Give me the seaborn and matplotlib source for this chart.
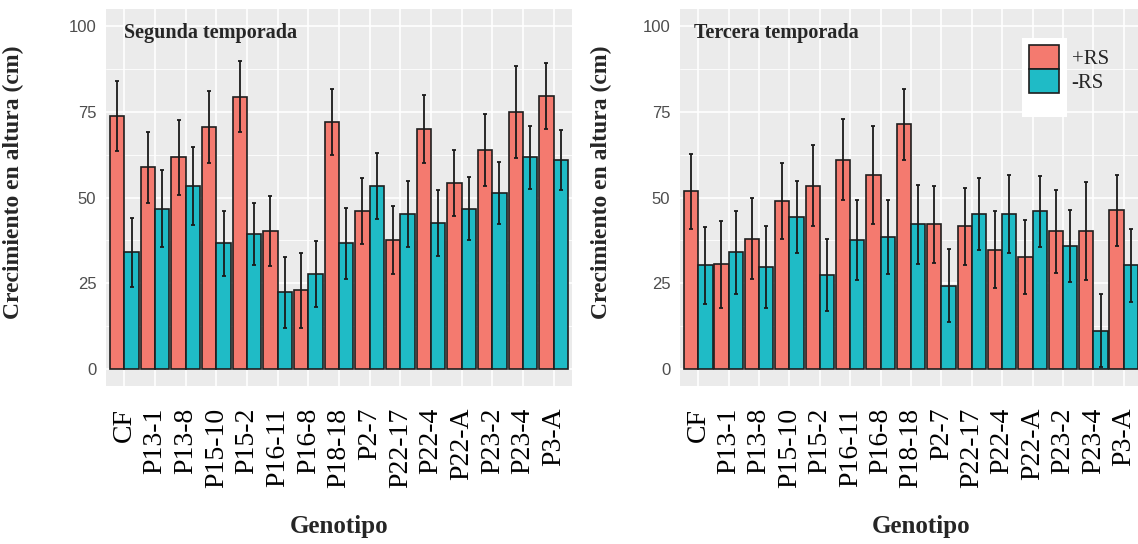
import numpy as np
import pandas as pd
import seaborn as sns
import matplotlib
matplotlib.use("Agg")
import matplotlib.pyplot as plt
from matplotlib.patches import Patch, Rectangle
from matplotlib.ticker import MultipleLocator

# ---------------- data ----------------
genotipos = ["CF", "P13-1", "P13-8", "P15-10", "P15-2", "P16-11", "P16-8", "P18-18",
             "P2-7", "P22-17", "P22-4", "P22-A", "P23-2", "P23-4", "P3-A"]
tratamientos = ["+RS", "-RS"]

# Segunda temporada
seg_mas = [73.8, 58.8, 61.7, 70.6, 79.4, 40.2, 22.9, 72.1, 46.1, 37.7, 70.0, 54.2, 64.0, 75.0, 79.6]
seg_mas_err = [10.2, 10.4, 11.0, 10.5, 10.4, 10.3, 11.0, 9.6, 9.7, 9.9, 10.0, 9.6, 10.5, 13.4, 9.7]
seg_menos = [34.0, 46.7, 53.4, 36.6, 39.3, 22.3, 27.6, 36.6, 53.4, 45.2, 42.5, 46.7, 51.3, 61.7, 60.9]
seg_menos_err = [10.0, 11.2, 11.4, 9.6, 9.0, 10.4, 9.6, 10.4, 9.7, 9.6, 9.7, 9.2, 9.1, 9.1, 8.8]

# Tercera temporada
ter_mas = [51.8, 30.5, 38.0, 49.0, 53.5, 61.0, 56.7, 71.4, 42.2, 41.6, 34.8, 32.6, 40.1, 40.1, 46.3]
ter_mas_err = [11.0, 12.7, 11.8, 11.2, 11.9, 11.8, 14.3, 10.4, 11.3, 11.3, 11.2, 10.8, 12.1, 14.3, 10.4]
ter_menos = [30.2, 34.0, 29.7, 44.4, 27.3, 37.6, 38.5, 42.2, 24.3, 45.2, 45.2, 46.0, 35.8, 11.1, 30.2]
ter_menos_err = [11.2, 12.2, 12.0, 10.5, 10.5, 11.7, 10.8, 11.5, 10.6, 10.5, 11.3, 10.4, 10.5, 10.6, 10.6]

paneles = ["Segunda temporada", "Tercera temporada"]
ylabel = "Crecimiento en altura (cm)"
xlabel = "Genotipo"
y_ticks = [0, 25, 50, 75, 100]

# ---------------- style ----------------
sns.set_style("white")
plt.rcParams["font.family"] = ["Liberation Serif", "DejaVu Serif"]

colores = ["#F47A6F", "#1FBBC6"]
edge = "#1e1e1e"
W, H = 1138, 544

fig = plt.figure(figsize=(W / 100, H / 100), dpi=100)

def make_df(mas, menos):
    rows = []
    for g, v in zip(genotipos, mas):
        rows.append((g, "+RS", v))
    for g, v in zip(genotipos, menos):
        rows.append((g, "-RS", v))
    return pd.DataFrame(rows, columns=["Genotipo", "Tratamiento", "valor"])

specs = [
    dict(pos=[106, 9, 466, 377], mas=seg_mas, mas_e=seg_mas_err, menos=seg_menos, menos_e=seg_menos_err,
         title=paneles[0], ylab_x=(24 - 106) / 466, xlab_x=0.5, title_x=0.0),
    dict(pos=[680, 9, 462, 377], mas=ter_mas, mas_e=ter_mas_err, menos=ter_menos, menos_e=ter_menos_err,
         title=paneles[1], ylab_x=(612 - 680) / 462, xlab_x=(921 - 680) / 462, title_x=-0.15),
]

for sp in specs:
    l, t, w, h = sp["pos"]
    ax = fig.add_axes([l / W, 1 - (t + h) / H, w / W, h / H])
    ax.set_facecolor("#EBEBEB")
    df = make_df(sp["mas"], sp["menos"])
    sns.barplot(data=df, x="Genotipo", y="valor", hue="Tratamiento", order=genotipos,
                hue_order=tratamientos, palette=colores, saturation=1, width=0.94, gap=0,
                errorbar=None, edgecolor=edge, linewidth=1.2, legend=False, ax=ax, zorder=3)
    errs = [sp["mas_e"], sp["menos_e"]]
    vals = [sp["mas"], sp["menos"]]
    for cont, e, v in zip(ax.containers, errs, vals):
        xs = [b.get_x() + b.get_width() / 2 for b in cont]
        ax.errorbar(xs, v, yerr=e, fmt="none", ecolor="#1a1a1a", elinewidth=1.3,
                    capsize=1.6, capthick=1.3, zorder=4)
    ax.set_xlim(-0.6, len(genotipos) - 0.4)
    ax.set_ylim(-5, 105)
    ax.set_yticks(y_ticks)
    ax.yaxis.set_minor_locator(MultipleLocator(12.5))
    ax.grid(which="major", axis="both", color="white", linewidth=1.2, zorder=0)
    ax.grid(which="minor", axis="y", color="white", linewidth=0.6, zorder=0)
    ax.set_axisbelow(True)
    for s in ax.spines.values():
        s.set_visible(False)
    ax.tick_params(axis="both", which="major", length=3.5, width=1.0, color="#333333", direction="out")
    ax.tick_params(axis="both", which="minor", length=0)
    ax.tick_params(axis="x", pad=12)
    for lab in ax.get_yticklabels():
        lab.set_family("Liberation Sans")
        lab.set_fontsize(12)
        lab.set_color("#4D4D4D")
    ax.set_xticks(range(len(genotipos)))
    ax.set_xticklabels(genotipos, rotation=90, fontsize=20, color="black")
    ax.set_ylabel(ylabel, fontsize=17, fontweight="bold")
    ax.yaxis.set_label_coords(sp["ylab_x"], 0.54)
    ax.set_xlabel(xlabel, fontsize=18, fontweight="bold")
    ax.xaxis.label.set_va("center")
    ax.xaxis.set_label_coords(sp["xlab_x"], (386 - 527) / 377)
    ax.text(sp["title_x"], 98, sp["title"], ha="left", va="center", fontsize=14.5,
            fontweight="bold", zorder=5)

# legend
fig.add_artist(Rectangle((1022 / W, 1 - 117 / H), 45 / W, 79 / H, transform=fig.transFigure,
                         facecolor="white", edgecolor="none", zorder=1))
handles = [Patch(facecolor=c, edgecolor=edge, linewidth=1.2) for c in colores]
fig.legend(handles, tratamientos, loc="upper left", bbox_to_anchor=(1029 / W, 1 - 45 / H),
           frameon=False, borderpad=0, borderaxespad=0, fontsize=15, handlelength=1.45,
           handleheight=1.4, labelspacing=0, handletextpad=0.6)

fig.savefig("out.png", dpi=100)
